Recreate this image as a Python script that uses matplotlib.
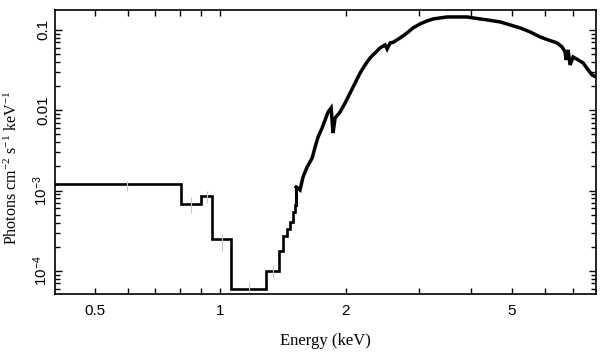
import matplotlib
matplotlib.use("Agg")
import matplotlib.pyplot as plt
from matplotlib.ticker import FixedLocator, FixedFormatter, NullFormatter
import numpy as np

# coarse low-energy bins: edges (keV) and flux (photons cm^-2 s^-1 keV^-1)
coarse_edges = [0.39, 0.806, 0.900, 0.957, 1.063, 1.289, 1.385, 1.416, 1.447,
                1.472, 1.497, 1.513, 1.522]
coarse_flux = [1.21e-3, 6.81e-4, 8.57e-4, 2.50e-4, 5.95e-5, 1.0e-4, 1.77e-4, 2.72e-4,
               3.33e-4, 4.06e-4, 5.42e-4, 6.62e-4]

# finely binned part
fine_energy = [1.522, 1.555, 1.581, 1.617, 1.663, 1.690,
               1.718, 1.756, 1.786, 1.816, 1.846, 1.866, 1.887, 1.940, 1.994, 2.050,
               2.108, 2.167, 2.227, 2.289, 2.353, 2.419, 2.487, 2.515, 2.557, 2.599,
               2.702, 2.808, 2.903, 3.017, 3.136, 3.243, 3.370, 3.503, 3.621, 3.763,
               3.911, 4.045, 4.203, 4.369, 4.693, 4.961, 5.242, 5.539, 5.854, 6.117,
               6.429, 6.608, 6.719, 6.756, 6.831, 6.907, 7.022, 7.221, 7.423, 7.631,
               7.800, 7.975, 8.1]
fine_flux = [1.11e-3, 1.02e-3, 1.48e-3, 1.97e-3, 2.55e-3, 3.49e-3,
             4.65e-3, 6.02e-3, 7.57e-3, 9.52e-3, 1.07e-2, 5.21e-3, 8.02e-3, 9.52e-3, 1.23e-2, 1.64e-2,
             2.19e-2, 2.92e-2, 3.67e-2, 4.48e-2, 5.17e-2, 5.97e-2, 6.50e-2, 5.80e-2, 6.89e-2, 7.0e-2,
             7.95e-2, 9.18e-2, 0.106, 0.1188, 0.1294, 0.137, 0.141, 0.145, 0.145, 0.145,
             0.145, 0.141, 0.137, 0.1332, 0.1258, 0.1154, 0.1059, 0.0944, 0.0818, 0.0751,
             0.0689, 0.0614, 0.0532, 0.0423, 0.0564, 0.0367, 0.0461, 0.0423, 0.0388, 0.0318,
             0.0275, 0.0260, 0.0260]

# faint error bars on the coarse bins
err_low = [1.0e-3, 5.2e-4, 7.0e-4, 1.8e-4, 4.5e-5, 8.3e-5]
err_high = [1.33e-3, 8.3e-4, 1.0e-3, 2.9e-4, 7.2e-5, 1.2e-4]

xticks = [0.5, 1, 2, 5]
xtick_labels = ["0.5", "1", "2", "5"]
xminor = [0.4, 0.6, 0.7, 0.8, 0.9, 3, 4, 6, 7, 8]
yticks = [1e-4, 1e-3, 1e-2, 1e-1]
ytick_labels = ["$10^{-4}$", "$10^{-3}$", "0.01", "0.1"]

plt.rcParams["mathtext.default"] = "regular"

fig = plt.figure(figsize=(6.09, 3.57), dpi=100)
ax = fig.add_axes([0.0903, 0.1765, 0.8884, 0.7955])

ax.stairs(coarse_flux, coarse_edges, baseline=None, color="black", linewidth=1.9)
ax.plot([coarse_edges[-1], fine_energy[0]], [coarse_flux[-1], fine_flux[0]],
        color="black", linewidth=2.2)
ax.plot(fine_energy, fine_flux, color="black", linewidth=2.5,
        solid_joinstyle="miter")

e = np.array(coarse_edges)
centers = (e[:-1] + e[1:]) / 2
n = len(err_low)
ax.vlines(centers[:n], err_low, err_high, color="#c8c8c8", linewidth=0.8, zorder=1)

ax.set_xscale("log")
ax.set_yscale("log")
ax.set_xlim(0.402, 7.97)
ax.set_ylim(5.18e-5, 0.177)

ax.xaxis.set_major_locator(FixedLocator(xticks))
ax.xaxis.set_major_formatter(FixedFormatter(xtick_labels))
ax.xaxis.set_minor_locator(FixedLocator(xminor))
ax.xaxis.set_minor_formatter(NullFormatter())
ax.yaxis.set_major_locator(FixedLocator(yticks))
ax.yaxis.set_major_formatter(FixedFormatter(ytick_labels))

ax.tick_params(which="both", direction="in", top=True, right=True, width=1.0)
ax.tick_params(axis="x", which="both", length=4)
ax.tick_params(axis="y", which="major", length=5)
ax.tick_params(axis="y", which="minor", length=3.5)
ax.tick_params(axis="x", which="major", pad=7)
for sp in ax.spines.values():
    sp.set_linewidth(1.2)

for lab in ax.get_xticklabels():
    lab.set_fontfamily("Liberation Sans")
    lab.set_fontsize(11)
for lab in ax.get_yticklabels():
    lab.set_fontfamily("Liberation Sans")
    lab.set_fontsize(11)
    lab.set_rotation(90)
    lab.set_va("center")

ax.set_xlabel("Energy (keV)", family="Liberation Serif", fontsize=12, labelpad=11)
ax.set_ylabel("Photons cm$^{-2}$ s$^{-1}$ keV$^{-1}$", family="Liberation Serif",
              fontsize=11.5)
ax.yaxis.set_label_coords(-0.063, 0.445)

fig.savefig("out.png", dpi=100)
